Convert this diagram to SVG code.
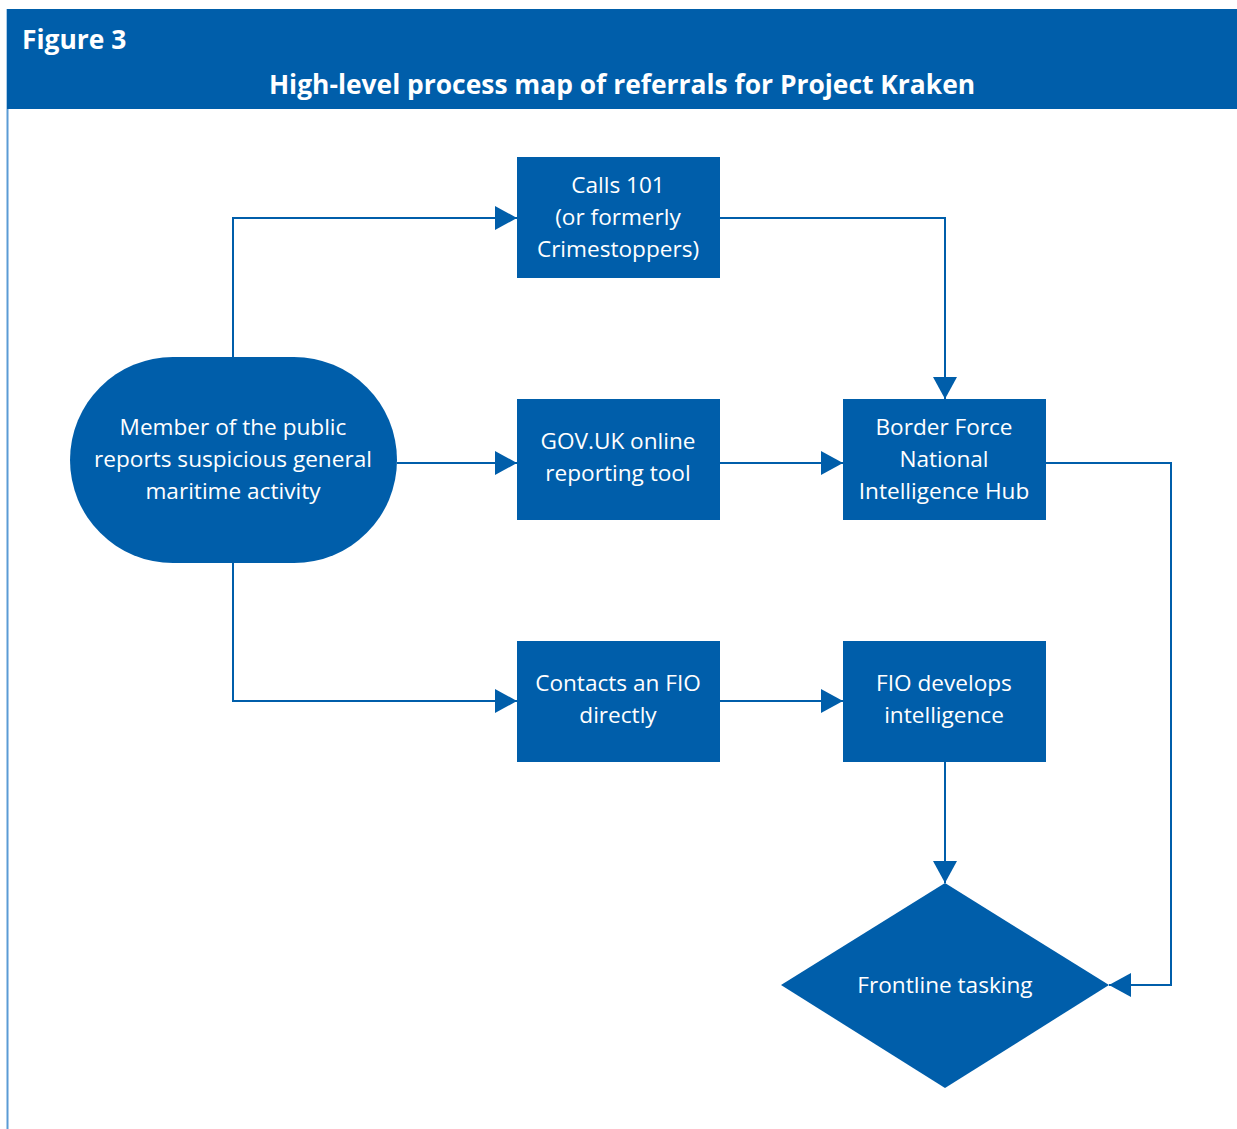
<svg xmlns="http://www.w3.org/2000/svg" width="1237" height="1129" viewBox="0 0 1237 1129">
<style>
.n{fill:#005EAA}
.t{font-family:"Open Sans","Noto Sans",sans-serif;font-size:22.6px;fill:#fff;text-anchor:middle}
.c{fill:none;stroke:#005EAA;stroke-width:2}
.h{font-family:"Open Sans","Noto Sans",sans-serif;font-weight:bold;fill:#fff;font-size:26.4px}
</style>
<defs>
<marker id="a" viewBox="0 0 22 24" refX="22" refY="12" markerWidth="22" markerHeight="24" markerUnits="userSpaceOnUse" orient="auto">
<path d="M0,0 L22,12 L0,24 Z" fill="#005EAA"/>
</marker>
</defs>
<rect x="0" y="0" width="1237" height="1129" fill="#fff"/>
<line x1="7.5" y1="9" x2="7.5" y2="1129" stroke="#5B9BD5" stroke-width="2"/>
<g id="header">
<rect x="7" y="9" width="1230" height="100" fill="#005EAA"/>
<text class="h" x="22" y="49">Figure 3</text>
<text class="h" x="622" y="94" text-anchor="middle">High-level process map of referrals for Project Kraken</text>
</g>
<g id="connectors">
<path class="c" d="M233,357 V218 H517" marker-end="url(#a)"/>
<path class="c" d="M720,218 H945 V399" marker-end="url(#a)"/>
<path class="c" d="M397,463 H517" marker-end="url(#a)"/>
<path class="c" d="M720,463 H843" marker-end="url(#a)"/>
<path class="c" d="M1046,463 H1171 V985 H1109" marker-end="url(#a)"/>
<path class="c" d="M233,563 V701 H517" marker-end="url(#a)"/>
<path class="c" d="M720,701 H843" marker-end="url(#a)"/>
<path class="c" d="M945,762 V883" marker-end="url(#a)"/>
</g>
<g id="public">
<rect class="n" x="70" y="357" width="327" height="206" rx="103" ry="103"/>
<text class="t" x="233" y="435">Member of the public</text>
<text class="t" x="233" y="467">reports suspicious general</text>
<text class="t" x="233" y="499">maritime activity</text>
</g>
<g id="calls101">
<rect class="n" x="517" y="157" width="203" height="121"/>
<text class="t" x="618" y="193">Calls 101</text>
<text class="t" x="618" y="225">(or formerly</text>
<text class="t" x="618" y="257">Crimestoppers)</text>
</g>
<g id="govuk">
<rect class="n" x="517" y="399" width="203" height="121"/>
<text class="t" x="618" y="449">GOV.UK online</text>
<text class="t" x="618" y="481">reporting tool</text>
</g>
<g id="borderforce">
<rect class="n" x="843" y="399" width="203" height="121"/>
<text class="t" x="944" y="435">Border Force</text>
<text class="t" x="944" y="467">National</text>
<text class="t" x="944" y="499">Intelligence Hub</text>
</g>
<g id="contactfio">
<rect class="n" x="517" y="641" width="203" height="121"/>
<text class="t" x="618" y="691">Contacts an FIO</text>
<text class="t" x="618" y="723">directly</text>
</g>
<g id="fiodevelops">
<rect class="n" x="843" y="641" width="203" height="121"/>
<text class="t" x="944" y="691">FIO develops</text>
<text class="t" x="944" y="723">intelligence</text>
</g>
<g id="frontline">
<path class="n" d="M945,883 L1109,985 L945,1088 L781,985 Z"/>
<text class="t" x="945" y="993">Frontline tasking</text>
</g>
</svg>
